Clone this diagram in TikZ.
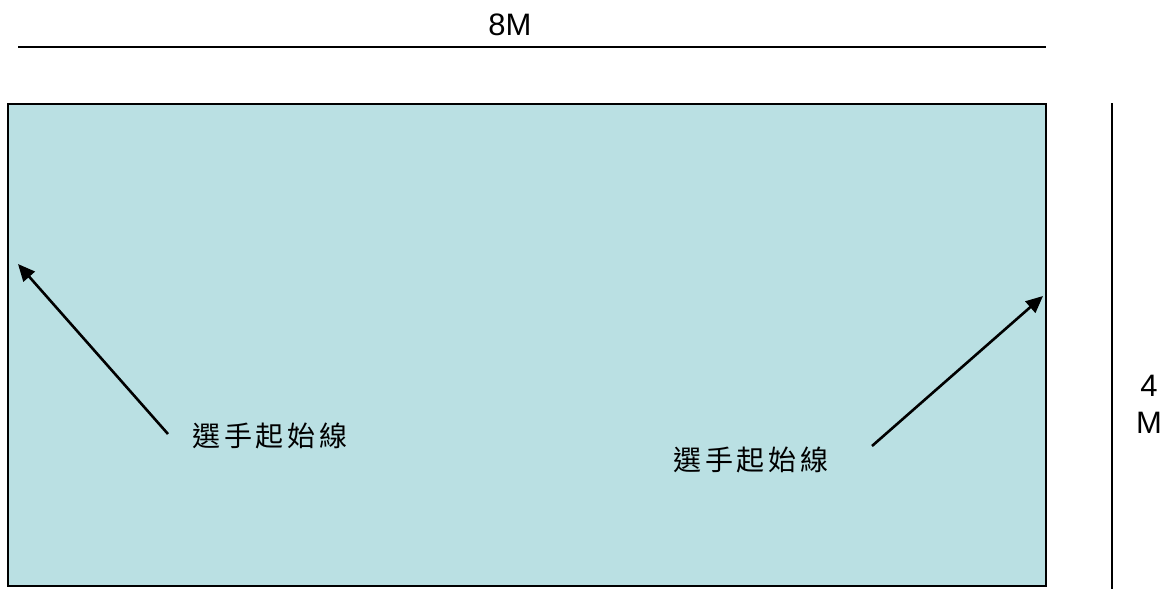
\documentclass[tikz,border=0pt]{standalone}
\usepackage{fontspec}
\setmainfont{Liberation Sans}
\newfontfamily\cjk[LetterSpace=14]{Noto Sans CJK TC}
\usetikzlibrary{arrows.meta}
\definecolor{pool}{RGB}{186,224,227}
\tikzset{
  dimline/.style={line width=2.5pt, black},
  court/.style={draw=black, line width=2.2pt, fill=pool},
  pointer/.style={line width=2.6pt, -{Triangle[length=17pt,width=15pt]}},
  cjklabel/.style={font=\cjk\fontsize{28}{32}\selectfont, inner sep=0pt},
  dimlabel/.style={font=\fontsize{31}{37}\selectfont, inner sep=0pt, align=center}
}
\begin{document}
\begin{tikzpicture}[x=1pt,y=-1pt]
\useasboundingbox (0,0) rectangle (1169,589);
% court
\draw[court] (8,104) rectangle (1046,586);
% width dimension
\coordinate (wl) at (18,47);
\coordinate (wr) at (1046,47);
\draw[dimline] (wl) -- (wr);
\node[dimlabel] (w) at (510,25) {8M};
% height dimension
\coordinate (ht) at (1112,103);
\coordinate (hb) at (1112,589);
\draw[dimline] (ht) -- (hb);
\node[dimlabel] (h) at (1149,404) {4\\M};
% labels
\node[cjklabel] (l1) at (270,436) {選手起始線};
\node[cjklabel] (l2) at (751,460) {選手起始線};
% arrows
\coordinate (t1) at (168,434);
\coordinate (p1) at (18,264);
\coordinate (t2) at (872,446);
\coordinate (p2) at (1043,296);
\draw[pointer] (t1) -- (p1);
\draw[pointer] (t2) -- (p2);
\end{tikzpicture}
\end{document}
